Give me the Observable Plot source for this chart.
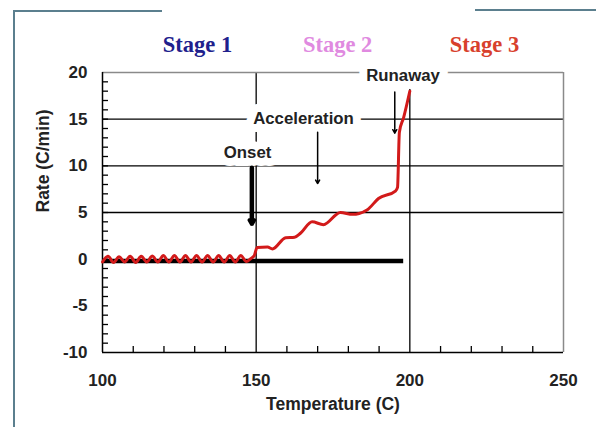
<!DOCTYPE html>
<html>
<head>
<meta charset="utf-8">
<script src="https://cdn.jsdelivr.net/npm/d3@7"></script>
<script src="https://cdn.jsdelivr.net/npm/@observablehq/plot@0.6"></script>
<style>
  body { margin: 0; background: #fff; }
  #wrap { position: relative; width: 596px; height: 427px; }
  .edge { position: absolute; background: #5b7f8e; }
</style>
</head>
<body>
<div id="wrap">
  <div class="edge" style="left:13px;top:10px;width:2px;height:417px;"></div>
  <div class="edge" style="left:13px;top:10px;width:149px;height:1.5px;"></div>
  <div class="edge" style="left:475px;top:9px;width:121px;height:1.5px;"></div>
  <div id="chart"></div>
</div>
<script>
// ---- data ----
const tempC = [100, 101.8, 103.6, 105.4, 107.2, 109, 110.8, 112.6, 114.4, 116.2, 118, 119.8, 121.6, 123.4, 125.2, 127, 128.8, 130.6, 132.4, 134.2, 136, 137.8, 139.6, 141.4, 143.2, 145, 146.8, 148.2, 149.4, 150.3, 153.7, 155.3, 159.6, 162.5, 164.5, 168.2, 171.9, 177.4, 181.4, 183.5, 186.2, 189.8, 195.3, 196, 196.6, 198, 200];
const rate  = [-0.3, 0.3, -0.35, 0.25, -0.3, 0.3, -0.35, 0.3, -0.3, 0.35, -0.3, 0.4, -0.3, 0.4, -0.3, 0.4, -0.3, 0.4, -0.3, 0.4, -0.3, 0.4, -0.3, 0.4, -0.3, 0.4, -0.25, 0.05, 0.4, 1.25, 1.3, 1.1, 2.3, 2.35, 2.8, 4.0, 3.7, 5.0, 4.8, 4.9, 5.3, 6.5, 7.3, 7.7, 13.6, 15.2, 18.0];

const xTicks = [100, 150, 200, 250];
const yTicks = [-10, -5, 0, 5, 10, 15, 20];
const xGrid = [150, 200];
const yGrid = [5, 10, 15];
const xMinor = [110, 120, 130, 140, 160, 170, 180, 190, 210, 220, 230, 240];
const yMinor = d3.range(-9, 20);

const baseline = [{y: -0.2, x1: 100, x2: 198}];

const stageLabels = ["Stage 1", "Stage 2", "Stage 3"];
const stageX = [130.9, 176.5, 224.3];
const stageColors = ["#20208c", "#e08ae0", "#d8402c"];

const noteText = ["Onset", "Acceleration", "Runaway"];
const noteX = [147.2, 165.4, 197.8];
const noteY = [11.4, 15.05, 19.65];

const arrowX  = [148.6, 170.0, 195.1];
const arrowY1 = [9.8, 13.6, 17.9];
const arrowY2 = [3.8, 8.1, 13.5];
const arrowW  = [4.5, 1.5, 1.5];

// ---- build ----
const series = tempC.map((t, i) => ({t, r: rate[i]}));
const notes = noteText.map((s, i) => ({s, x: noteX[i], y: noteY[i]}));
const arrows = arrowX.map((x, i) => ({x, y1: arrowY1[i], y2: arrowY2[i], w: arrowW[i]}));

const chart = Plot.plot({
  width: 596,
  height: 427,
  marginLeft: 102,
  marginRight: 33,
  marginTop: 72,
  marginBottom: 75,
  style: {fontFamily: "'Liberation Sans', Arial, sans-serif", background: "transparent"},
  x: {domain: [100, 250]},
  y: {domain: [-10, 20]},
  marks: [
    // grid
    Plot.ruleX(xGrid, {stroke: "#000", strokeWidth: 1.3}),
    Plot.ruleY(yGrid, {stroke: "#000", strokeWidth: 1.3}),
    // frame top/right (gray), left/bottom (black)
    Plot.ruleY([20], {stroke: "#8a8a8a", strokeWidth: 1.5}),
    Plot.ruleX([250], {stroke: "#8a8a8a", strokeWidth: 1.5}),
    Plot.ruleX([100], {stroke: "#000", strokeWidth: 1.5}),
    Plot.ruleY([-10], {stroke: "#000", strokeWidth: 1.5}),
    // minor ticks (inside)
    Plot.tickX(xMinor, {x: d => d, insetTop: 274, stroke: "#000", strokeWidth: 1.3}),
    Plot.tickY(yMinor, {y: d => d, insetRight: 455, stroke: "#000", strokeWidth: 1.3}),
    // axes labels
    Plot.axisX({ticks: xTicks, tickSize: 0, tickPadding: 21, tickFormat: d => d, label: null,
      fontSize: 17, fontWeight: "bold", fill: "#222"}),
    Plot.axisY({ticks: yTicks, tickSize: 0, tickPadding: 15, tickFormat: d => d, label: null,
      fontSize: 17, fontWeight: "bold", fill: "#222"}),
    Plot.text(["Temperature (C)"], {frameAnchor: "bottom", dy: 57, text: d => d,
      fontSize: 17.5, fontWeight: "bold", fill: "#222"}),
    Plot.text(["Rate (C/min)"], {frameAnchor: "left", dx: -59.5, rotate: -90, text: d => d,
      fontSize: 17.5, fontWeight: "bold", fill: "#222"}),
    // stage titles
    ...stageLabels.map((s, i) => Plot.text([s], {x: () => stageX[i], text: d => d, frameAnchor: "top", dy: -36,
      fill: stageColors[i], fontFamily: "'Liberation Serif', 'Times New Roman', serif",
      fontWeight: "bold", fontSize: 22.5})),
    // annotation labels with white mask
    Plot.text(notes, {x: "x", y: "y", text: "s", fontSize: 16.8, fontWeight: "bold", fill: "#222",
      stroke: "white", strokeWidth: 16, paintOrder: "stroke"}),
    // baseline
    Plot.ruleY(baseline, {y: "y", x1: "x1", x2: "x2", stroke: "#000", strokeWidth: 4.5}),
    // arrows
    Plot.arrow(arrows, {x: "x", y1: "y1", y2: "y2", strokeWidth: "w", stroke: "#000", headLength: 6}),
    // data line
    Plot.line(series, {x: "t", y: "r", stroke: "#d21a1a", strokeWidth: 3, strokeLinejoin: "round", curve: "monotone-x"})
  ]
});
document.getElementById("chart").appendChild(chart);
</script>
</body>
</html>
